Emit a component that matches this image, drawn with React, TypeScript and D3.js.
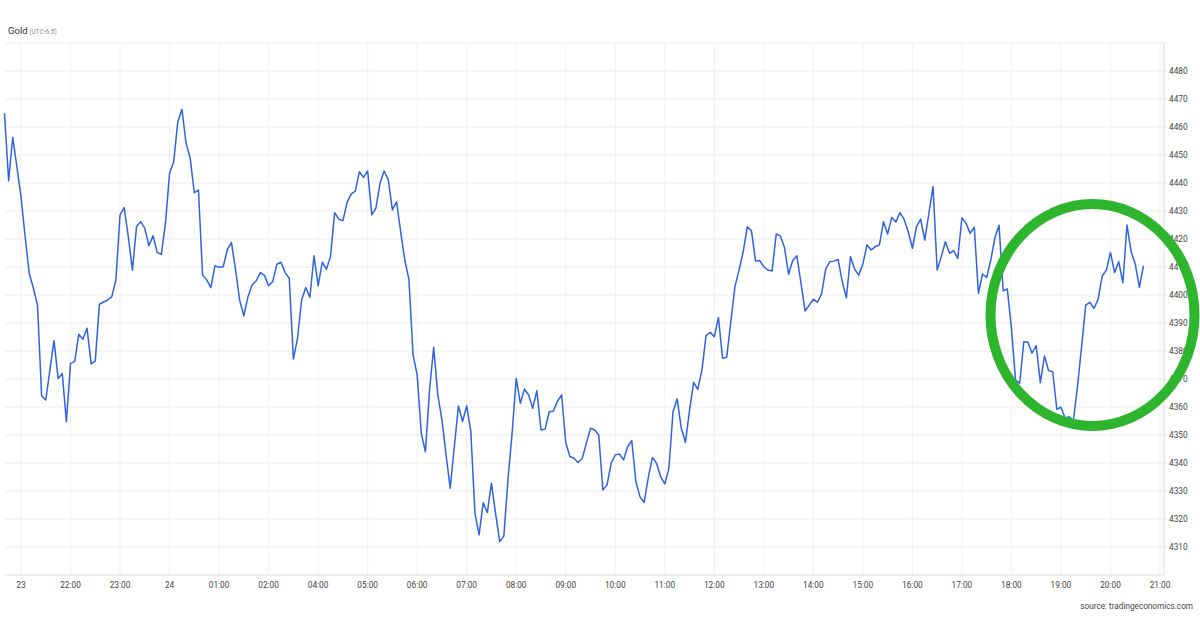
import React, { useEffect, useRef } from 'react';
import * as d3 from 'd3';

// 5-minute gold quotes, first point is 20 min before the "23" tick
const goldPrices = [
  4464.9, 4440.8, 4456.3, 4445.8, 4435.1, 4420.8, 4407.7, 4402.4, 4396.4, 4363.9,
  4362.5, 4373.2, 4383.7, 4370.2, 4372.0, 4354.7, 4375.6, 4376.2, 4386.0, 4384.2,
  4388.1, 4375.4, 4376.4, 4396.7, 4397.5, 4398.2, 4399.4, 4405.4, 4428.6, 4431.2,
  4420.8, 4408.9, 4424.5, 4426.2, 4423.8, 4417.6, 4421.2, 4415.2, 4414.5, 4425.6,
  4443.5, 4447.6, 4461.9, 4466.3, 4454.2, 4448.8, 4436.5, 4437.5, 4407.1, 4405.4,
  4402.6, 4410.4, 4409.9, 4410.1, 4416.3, 4418.7, 4408.9, 4398.0, 4392.6, 4399.4,
  4403.6, 4405.1, 4408.0, 4407.0, 4403.3, 4404.8, 4411.0, 4411.7, 4408.0, 4406.0,
  4377.1, 4384.5, 4398.2, 4402.7, 4399.2, 4414.0, 4403.3, 4411.7, 4409.2, 4413.7,
  4429.4, 4427.1, 4426.5, 4433.0, 4436.0, 4437.1, 4444.0, 4442.0, 4444.3, 4428.6,
  4431.0, 4439.9, 4444.3, 4441.1, 4430.4, 4433.3, 4422.6, 4412.5, 4405.6, 4378.6,
  4371.4, 4350.6, 4344.0, 4366.1, 4381.3, 4364.3, 4355.4, 4342.9, 4331.0, 4345.8,
  4360.4, 4354.8, 4360.4, 4351.2, 4322.0, 4314.3, 4325.8, 4322.3, 4332.8, 4322.0,
  4311.9, 4313.9, 4334.0, 4350.6, 4370.2, 4361.3, 4366.4, 4364.3, 4359.5, 4365.8,
  4351.8, 4352.1, 4358.3, 4358.5, 4362.1, 4364.3, 4347.3, 4342.3, 4341.7, 4340.2,
  4341.7, 4347.0, 4352.4, 4351.8, 4350.0, 4330.4, 4332.1, 4339.9, 4342.9, 4343.2,
  4341.1, 4345.8, 4348.0, 4333.3, 4327.9, 4325.9, 4334.8, 4342.0, 4339.9, 4335.1,
  4332.5, 4338.1, 4358.3, 4362.9, 4352.4, 4347.4, 4358.9, 4368.8, 4366.3, 4373.2,
  4385.5, 4386.7, 4385.1, 4392.0, 4377.4, 4377.8, 4390.5, 4403.0, 4408.9, 4415.5,
  4424.4, 4422.9, 4412.1, 4412.3, 4410.1, 4408.9, 4408.6, 4421.8, 4421.1, 4417.0,
  4407.4, 4412.3, 4414.0, 4404.2, 4394.3, 4396.4, 4398.5, 4397.4, 4400.4, 4409.3,
  4411.9, 4412.1, 4412.7, 4404.8, 4399.0, 4413.7, 4409.3, 4407.1, 4411.1, 4417.9,
  4416.1, 4417.3, 4417.8, 4426.2, 4421.8, 4427.7, 4426.1, 4429.4, 4427.0, 4422.6,
  4416.7, 4424.4, 4427.1, 4419.6, 4429.2, 4438.7, 4408.9, 4413.7, 4419.0, 4414.9,
  4415.8, 4413.1, 4427.6, 4425.6, 4422.0, 4424.2, 4400.6, 4407.5, 4406.3, 4412.5,
  4420.5, 4424.9, 4401.5, 4402.2, 4388.0, 4369.6, 4368.5, 4383.3, 4383.1, 4379.2,
  4381.9, 4368.7, 4378.2, 4373.0, 4372.6, 4359.2, 4359.9, 4356.0, 4356.5, 4355.1,
  4367.3, 4381.5, 4396.4, 4397.4, 4395.2, 4398.5, 4406.8, 4408.9, 4415.2, 4408.0,
  4411.9, 4404.4, 4425.0, 4415.5, 4411.1, 4402.7, 4410.5
];

const hourLabels = [
  '23', '22:00', '23:00', '24', '01:00', '02:00', '04:00', '05:00', '06:00', '07:00',
  '08:00', '09:00', '10:00', '11:00', '12:00', '13:00', '14:00', '15:00', '16:00',
  '17:00', '18:00', '19:00', '20:00', '21:00'
];

const priceTicks = [
  4310, 4320, 4330, 4340, 4350, 4360, 4370, 4380, 4390, 4400,
  4410, 4420, 4430, 4440, 4450, 4460, 4470, 4480
];

const pointsBeforeFirstTick = 4;
const pointsPerHour = 12;

const App = () => {
  const svgRef = useRef<SVGSVGElement | null>(null);

  useEffect(() => {
    const svg = d3.select(svgRef.current);
    svg.selectAll('*').remove();

    const width = 1200;
    const height = 630;
    const left = 5;
    const right = 1164;
    const top = 43;
    const bottom = 575;
    const font = 'Roboto, "Noto Sans", sans-serif';

    const lastTick = pointsBeforeFirstTick + pointsPerHour * (hourLabels.length - 1);
    const x = d3.scaleLinear().domain([pointsBeforeFirstTick, lastTick]).range([21, 1160]);
    const y = d3.scaleLinear().domain([4300, 4490]).range([bottom, top]);

    svg.append('rect').attr('width', width).attr('height', height).attr('fill', '#fff');

    // title
    const title = svg.append('text').attr('x', 8).attr('y', 34).style('font-family', font);
    title.append('tspan').text('Gold').style('font-size', '9.5px').attr('fill', '#333');
    title.append('tspan').text(' (UTC-6.5)').style('font-size', '6.5px').attr('fill', '#8a8a8a');

    // grid
    const grid = svg.append('g');
    grid.selectAll('line.v')
      .data(hourLabels)
      .join('line')
      .attr('x1', (_, k) => x(pointsBeforeFirstTick + k * pointsPerHour))
      .attr('x2', (_, k) => x(pointsBeforeFirstTick + k * pointsPerHour))
      .attr('y1', top)
      .attr('y2', bottom)
      .attr('stroke', '#f1f1f1')
      .attr('stroke-width', 1);

    grid.selectAll('line.h')
      .data([4490, ...priceTicks])
      .join('line')
      .attr('x1', left)
      .attr('x2', right + 3)
      .attr('y1', d => y(d))
      .attr('y2', d => y(d))
      .attr('stroke', '#ebebeb')
      .attr('stroke-width', 1);

    // axis lines
    svg.append('line')
      .attr('x1', right).attr('x2', right).attr('y1', top).attr('y2', bottom)
      .attr('stroke', '#dedede');
    svg.append('line')
      .attr('x1', left).attr('x2', right).attr('y1', bottom).attr('y2', bottom)
      .attr('stroke', '#dedede');

    // y labels
    svg.append('g')
      .selectAll('text')
      .data(priceTicks)
      .join('text')
      .attr('x', 1169)
      .attr('y', d => y(d))
      .attr('dy', '0.35em')
      .text(d => d)
      .style('font-family', font)
      .style('font-size', '8.3px')
      .attr('fill', '#444');

    // x labels
    svg.append('g')
      .selectAll('text')
      .data(hourLabels)
      .join('text')
      .attr('x', (_, k) => x(pointsBeforeFirstTick + k * pointsPerHour))
      .attr('y', 588)
      .attr('text-anchor', 'middle')
      .text(d => d)
      .style('font-family', font)
      .style('font-size', '8.3px')
      .attr('fill', '#444');

    // price line
    const line = d3.line<number>()
      .x((_, i) => x(i))
      .y(d => y(d));

    svg.append('path')
      .datum(goldPrices)
      .attr('fill', 'none')
      .attr('stroke', '#2f63e3')
      .attr('stroke-width', 1.5)
      .attr('stroke-linejoin', 'round')
      .attr('d', line);

    // source
    svg.append('text')
      .attr('x', 1193)
      .attr('y', 609)
      .attr('text-anchor', 'end')
      .text('source: tradingeconomics.com')
      .style('font-family', font)
      .style('font-size', '8.2px')
      .attr('fill', '#444');

    // green highlight drawn over the last hours
    svg.append('ellipse')
      .attr('cx', 1092.5)
      .attr('cy', 315)
      .attr('rx', 102)
      .attr('ry', 111)
      .attr('fill', 'none')
      .attr('stroke', '#2db52d')
      .attr('stroke-width', 10);
  }, []);

  return (
    <div>
      <style>{'body{margin:0;background:#fff}'}</style>
      <svg ref={svgRef} width={1200} height={630} style={{ display: 'block' }} />
    </div>
  );
};

export default App;
